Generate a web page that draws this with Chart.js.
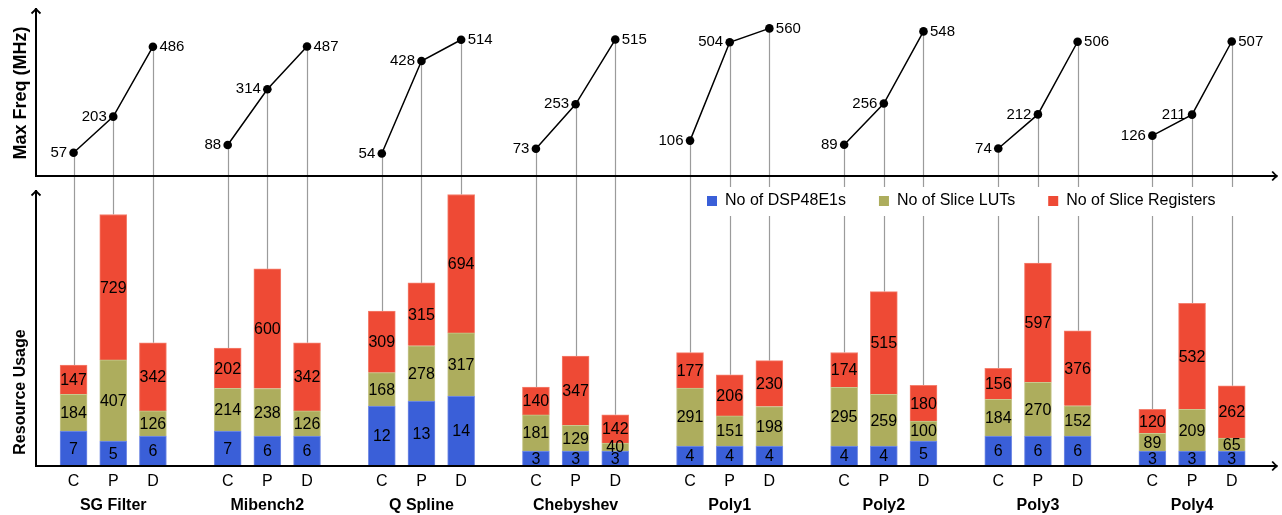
<!DOCTYPE html>
<html>
<head>
<meta charset="utf-8">
<script src="https://cdn.jsdelivr.net/npm/chart.js@4.4.1/dist/chart.umd.min.js"></script>
<style>
  html, body { margin:0; padding:0; background:#fff; }
  #wrap { position:relative; width:1282px; height:515px; }
</style>
</head>
<body>
<div id="wrap"><canvas id="chart"></canvas></div>
<script>
// benchmark groups, each with C / P / D variants
const groups   = ['SG Filter','Mibench2','Q Spline','Chebyshev','Poly1','Poly2','Poly3','Poly4'];
const variants = ['C','P','D'];

// one entry per bar: C,P,D of every group in order
const maxFreq  = [57,203,486, 88,314,487, 54,428,514, 73,253,515, 106,504,560, 89,256,548, 74,212,506, 126,211,507];
const dspCount = [7,5,6, 7,6,6, 12,13,14, 3,3,3, 4,4,4, 4,4,5, 6,6,6, 3,3,3];
const lutCount = [184,407,126, 214,238,126, 168,278,317, 181,129,40, 291,151,198, 295,259,100, 184,270,152, 89,209,65];
const regCount = [147,729,342, 202,600,342, 309,315,694, 140,347,142, 177,206,230, 174,515,180, 156,597,376, 120,532,262];

const DSP_WEIGHT = 25;   // dsp blocks drawn 25x so they stay visible
const GROUP_STEP = 3.885;

const FONT = "'Liberation Sans', Arial, sans-serif";
const COL  = { dsp:'#3a5fd8', lut:'#adad5d', reg:'#ee4a35' };
const EDGE = { dsp:'#7990e6', lut:'#c9c98f', reg:'#f5806f' };

const xPos = i => Math.floor(i/3)*GROUP_STEP + i%3;
const pts = vals => vals.map((v,i) => ({x:xPos(i), y:v}));

const arrow = (ctx, x, y, dx, dy) => {
  // latex style "->" head, tip at x,y pointing along dx,dy
  const back = 5.5, half = 4.5;
  const px = -dy, py = dx;
  ctx.beginPath();
  ctx.moveTo(x - dx*back + px*half, y - dy*back + py*half);
  ctx.quadraticCurveTo(x - dx*1.5, y - dy*1.5, x, y);
  ctx.quadraticCurveTo(x - dx*1.5, y - dy*1.5, x - dx*back - px*half, y - dy*back - py*half);
  ctx.stroke();
};

const decor = {
  id:'decor',
  beforeDatasetsDraw(chart){
    const ctx = chart.ctx;
    const line = chart.getDatasetMeta(0), top = chart.getDatasetMeta(3);
    ctx.save();
    ctx.strokeStyle = '#9b9b9b'; ctx.lineWidth = 1.2;
    line.data.forEach((p,i) => {
      ctx.beginPath();
      ctx.moveTo(Math.round(p.x)+0.5, p.y);
      ctx.lineTo(Math.round(p.x)+0.5, top.data[i].y);
      ctx.stroke();
    });
    ctx.restore();
  },
  afterDatasetsDraw(chart){
    const ctx = chart.ctx, ca = chart.chartArea;
    ctx.save();
    ctx.fillStyle = '#000';
    ctx.textBaseline = 'middle';

    // numbers inside the stacked segments
    ctx.textAlign = 'center';
    ctx.font = '16px ' + FONT;
    [1,2,3].forEach(d => {
      const counts = chart.data.datasets[d].counts;
      chart.getDatasetMeta(d).data.forEach((b,i) => {
        ctx.fillText(counts[i], b.x, (b.y + b.base)/2 + 1);
      });
    });

    // frequency labels next to the points
    ctx.font = '15px ' + FONT;
    chart.getDatasetMeta(0).data.forEach((p,i) => {
      const right = i%3 === 2;
      ctx.textAlign = right ? 'left' : 'right';
      ctx.fillText(maxFreq[i], p.x + (right ? 6.5 : -6.5), p.y);
    });

    // axes with arrow heads
    const x0 = ca.left, xr = ca.right, split = 176, lowTop = 190;
    ctx.strokeStyle = '#000'; ctx.lineWidth = 2; ctx.lineCap = 'butt';
    ctx.beginPath();
    ctx.moveTo(x0, split); ctx.lineTo(x0, ca.top + 2);
    ctx.moveTo(x0 - 1, split); ctx.lineTo(xr - 1, split);
    ctx.moveTo(x0, ca.bottom); ctx.lineTo(x0, lowTop + 1);
    ctx.moveTo(x0 - 1, ca.bottom); ctx.lineTo(xr - 1, ca.bottom);
    ctx.stroke();
    ctx.lineWidth = 1.8;
    arrow(ctx, x0, ca.top, 0, -1);
    arrow(ctx, x0, lowTop, 0, -1);
    arrow(ctx, xr, split, 1, 0);
    arrow(ctx, xr, ca.bottom, 1, 0);

    // panel titles
    ctx.textAlign = 'center';
    [['Max Freq (MHz)', 93, 18], ['Resource Usage', 392, 16]].forEach(([t, cy, sz]) => {
      ctx.save();
      ctx.font = 'bold ' + sz + 'px ' + FONT;
      ctx.translate(20, cy);
      ctx.rotate(-Math.PI/2);
      ctx.fillText(t, 0, 1);
      ctx.restore();
    });

    // legend inside the lower panel
    ctx.fillStyle = '#fff';
    ctx.fillRect(696, 187, 545, 29);
    ctx.font = '16px ' + FONT;
    ctx.textAlign = 'left';
    let lx = 707;
    [1,2,3].forEach(d => {
      const ds = chart.data.datasets[d];
      ctx.fillStyle = ds.backgroundColor;
      ctx.fillRect(lx, 196, 10, 10);
      ctx.fillStyle = '#000';
      ctx.fillText(ds.label, lx + 18, 201);
      lx += 18 + ctx.measureText(ds.label).width + 33;
    });
    ctx.restore();
  }
};

const barSet = (label, vals, counts, key) => ({
  type:'bar', label, data:pts(vals), counts,
  backgroundColor:COL[key], borderColor:EDGE[key], borderWidth:1,
  barThickness:27, xAxisID:'x', yAxisID:'y', order:1
});

const xRange = { min:-0.947, max:7*GROUP_STEP + 2 + 1.159, offset:false };

new Chart(document.getElementById('chart'), {
  type:'bar',
  data:{
    datasets:[
      {
        type:'line', label:'Max Freq', data:pts(maxFreq),
        xAxisID:'x', yAxisID:'y2', order:0,
        borderColor:'#000', borderWidth:1.5, tension:0,
        pointRadius:4.3, pointBackgroundColor:'#000', pointBorderWidth:0,
        segment:{ borderColor: c => c.p1DataIndex % 3 === 0 ? 'rgba(0,0,0,0)' : '#000' }
      },
      barSet('No of DSP48E1s', dspCount.map(v => v*DSP_WEIGHT), dspCount, 'dsp'),
      barSet('No of Slice LUTs', lutCount, lutCount, 'lut'),
      barSet('No of Slice Registers', regCount, regCount, 'reg')
    ]
  },
  options:{
    responsive:true, maintainAspectRatio:false, animation:false,
    layout:{ padding:{ left:36, right:4, top:8, bottom:1 } },
    plugins:{ legend:{display:false}, tooltip:{enabled:false} },
    scales:{
      x:{
        type:'linear', position:'bottom', stacked:true, ...xRange,
        grid:{display:false, drawTicks:false, offset:false}, border:{display:false},
        afterBuildTicks: s => { s.ticks = maxFreq.map((_,i) => ({value:xPos(i)})); },
        ticks:{ autoSkip:false, maxRotation:0, padding:8, color:'#000',
          font:{family:FONT, size:16, lineHeight:1},
          callback:(v,i) => variants[i%3] }
      },
      x2:{
        type:'linear', position:'bottom', ...xRange,
        grid:{display:false, drawTicks:false, offset:false}, border:{display:false},
        afterBuildTicks: s => { s.ticks = groups.map((_,g) => ({value:g*GROUP_STEP + 1})); },
        ticks:{ autoSkip:false, maxRotation:0, padding:0, color:'#000',
          font:{family:FONT, size:16, weight:'bold', lineHeight:1},
          callback:(v,i) => groups[i] }
      },
      y:{ display:false, stacked:true, min:0, max:2296 },
      y2:{ display:false, min:-1210.8, max:642.6 }
    }
  },
  plugins:[decor]
});
</script>
</body>
</html>
